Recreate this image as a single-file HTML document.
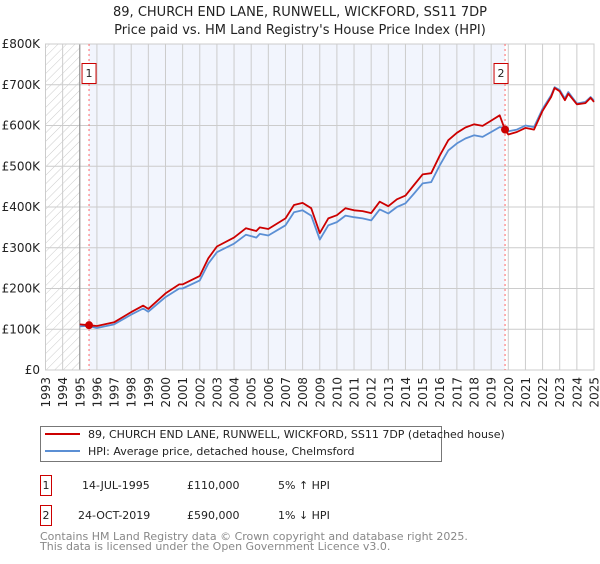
<!DOCTYPE html>
<html><head><meta charset="utf-8"><style>
body{margin:0;background:#fff;font-family:"DejaVu Sans","Liberation Sans",sans-serif;}
svg text{font-family:"DejaVu Sans","Liberation Sans",sans-serif;}
</style></head><body>
<svg id="c" width="600" height="560" viewBox="0 0 600 560">
<defs><pattern id="hatch" width="6" height="6" patternUnits="userSpaceOnUse" patternTransform="rotate(45)"><line x1="0" y1="0" x2="0" y2="6" stroke="#ccc" stroke-width="1"/></pattern></defs>
<text x="300" y="16" text-anchor="middle" font-size="13" fill="#222">89, CHURCH END LANE, RUNWELL, WICKFORD, SS11 7DP</text>
<text x="300" y="34" text-anchor="middle" font-size="13" fill="#222">Price paid vs. HM Land Registry's House Price Index (HPI)</text>
<g id="plot"></g>
<g>
<rect x="40.5" y="426.5" width="401" height="35" fill="#fff" stroke="#777"/>
<line x1="45" y1="434" x2="80" y2="434" stroke="#cc0000" stroke-width="2"/>
<text x="88" y="438" font-size="11" fill="#222">89, CHURCH END LANE, RUNWELL, WICKFORD, SS11 7DP (detached house)</text>
<line x1="45" y1="451" x2="80" y2="451" stroke="#5b8fd4" stroke-width="2"/>
<text x="88" y="455" font-size="11" fill="#222">HPI: Average price, detached house, Chelmsford</text>
</g>
<g font-size="11" fill="#222">
<rect x="40.5" y="475.5" width="11" height="20" fill="#fff" stroke="#cc0000"/><text x="46" y="489" text-anchor="middle">1</text>
<text x="82" y="489">14-JUL-1995</text><text x="187" y="489">£110,000</text><text x="278" y="489">5% ↑ HPI</text>
<rect x="40.5" y="505.5" width="11" height="20" fill="#fff" stroke="#cc0000"/><text x="46" y="519" text-anchor="middle">2</text>
<text x="78" y="519">24-OCT-2019</text><text x="187" y="519">£590,000</text><text x="278" y="519">1% ↓ HPI</text>
</g>
<text x="40" y="540" font-size="11" fill="#888">Contains HM Land Registry data © Crown copyright and database right 2025.</text>
<text x="40" y="550" font-size="11" fill="#888">This data is licensed under the Open Government Licence v3.0.</text>
</svg>
<script>
const hpiYears=[1995,1995.5,1996,1997,1998,1998.7,1999,2000,2000.8,2001,2002,2002.5,2003,2004,2004.7,2005.3,2005.5,2006,2007,2007.5,2008,2008.5,2009,2009.5,2010,2010.5,2011,2011.5,2012,2012.5,2013,2013.5,2014,2014.5,2015,2015.5,2016,2016.5,2017,2017.5,2018,2018.5,2019,2019.5,2019.8,2020,2020.5,2021,2021.5,2022,2022.5,2022.7,2023,2023.3,2023.5,2024,2024.5,2024.8,2025];
const hpiValues=[107,108,103,112,136,151,143,179,200,200,220,261,289,310,332,325,334,330,355,387,392,379,320,355,363,379,375,372,367,394,384,400,409,433,458,461,502,539,556,568,576,572,584,596,594,586,590,600,596,641,674,694,687,666,682,654,658,670,661];
const propYears=[1995,1995.54,1996,1997,1998,1998.7,1999,2000,2000.8,2001,2002,2002.5,2003,2004,2004.7,2005.3,2005.5,2006,2007,2007.5,2008,2008.5,2009,2009.5,2010,2010.5,2011,2011.5,2012,2012.5,2013,2013.5,2014,2014.5,2015,2015.5,2016,2016.5,2017,2017.5,2018,2018.5,2019,2019.5,2019.8,2020,2020.5,2021,2021.5,2022,2022.5,2022.7,2023,2023.3,2023.5,2024,2024.5,2024.8,2025];
const propValues=[112,110,108,117,142,158,150,188,210,210,231,274,303,325,348,341,350,346,372,405,410,397,336,372,380,397,392,390,385,413,402,419,428,454,480,483,526,564,582,595,603,599,612,625,590,578,584,594,590,636,670,692,684,662,678,652,655,668,658];
const yTicks=[0,100,200,300,400,500,600,700,800];
const yTickLabels=["£0","£100K","£200K","£300K","£400K","£500K","£600K","£700K","£800K"];
const xTicks=[1993,1994,1995,1996,1997,1998,1999,2000,2001,2002,2003,2004,2005,2006,2007,2008,2009,2010,2011,2012,2013,2014,2015,2016,2017,2018,2019,2020,2021,2022,2023,2024,2025];
const saleYears=[1995.54,2019.81];
const saleValues=[110,590];
const saleLabels=["1","2"];
const X0=45.5,X1=594,Y0=370,Y1=44;
const xs=y=>X0+(y-1993)/(2025-1993)*(X1-X0);
const ys=v=>Y0-v/800*(Y0-Y1);
const NS="http://www.w3.org/2000/svg";
const g=document.getElementById('plot');
function mk(t,a,p){const e=document.createElementNS(NS,t);for(const k in a)e.setAttribute(k,a[k]);(p||g).appendChild(e);return e;}
const bg=mk('rect',{x:X0,y:Y1,width:X1-X0,height:Y0-Y1,fill:'#fff'});


const sh=mk('rect',{x:xs(saleYears[0]),y:Y1,width:xs(saleYears[1])-xs(saleYears[0]),height:Y0-Y1,fill:'#f2f5fd'});


const ht=mk('rect',{x:X0,y:Y1,width:xs(1995)-X0,height:Y0-Y1,fill:'url(#hatch)'});


xTicks.forEach(t=>{const l=mk('line',{x1:xs(t),x2:xs(t),y1:Y1,y2:Y0,stroke:'#ccc'});


const tg=mk('g',{transform:'translate('+(xs(t)+4.5).toFixed(1)+','+(Y0+7)+') rotate(-90)'});
const tx=mk('text',{x:0,y:0,'font-size':12,fill:'#222','text-anchor':'end'},tg);tx.textContent=t;

});
yTicks.forEach((t,i)=>{const l=mk('line',{x1:X0,x2:X1,y1:ys(t),y2:ys(t),stroke:'#ccc'});


const tx=mk('text',{x:40,y:ys(t)+4,'font-size':12,fill:'#222','text-anchor':'end'});tx.textContent=yTickLabels[i];

});
const ax=mk('line',{x1:xs(1995),x2:xs(1995),y1:Y1,y2:Y0,stroke:'#888'});


const fr=mk('rect',{x:X0,y:Y1,width:X1-X0,height:Y0-Y1,fill:'none',stroke:'#ccc'});


saleYears.forEach((s,i)=>{const l=mk('line',{x1:xs(s),x2:xs(s),y1:Y1,y2:Y0,stroke:'#ff6666','stroke-dasharray':'2,3'});

});
function path(xa,va,c,n){const d=xa.map((x,i)=>(i?'L':'M')+xs(x).toFixed(1)+','+ys(va[i]).toFixed(1)).join('');const p=mk('path',{d:d,fill:'none',stroke:c,'stroke-width':1.8,'stroke-linejoin':'round'});

}
path(hpiYears,hpiValues,'#5b8fd4','hpi-line');
path(propYears,propValues,'#cc0000','property-line');
saleYears.forEach((s,i)=>{const c=mk('circle',{cx:xs(s),cy:ys(saleValues[i]),r:4,fill:'#cc0000'});


const bx=xs(s)-(i?11:7);
const r=mk('rect',{x:bx,y:63.5,width:14,height:20,fill:'#fff',stroke:'#cc0000'});


const t=mk('text',{x:bx+7,y:77,'font-size':11,fill:'#222','text-anchor':'middle'});t.textContent=saleLabels[i];

});
</script>
</body></html>
